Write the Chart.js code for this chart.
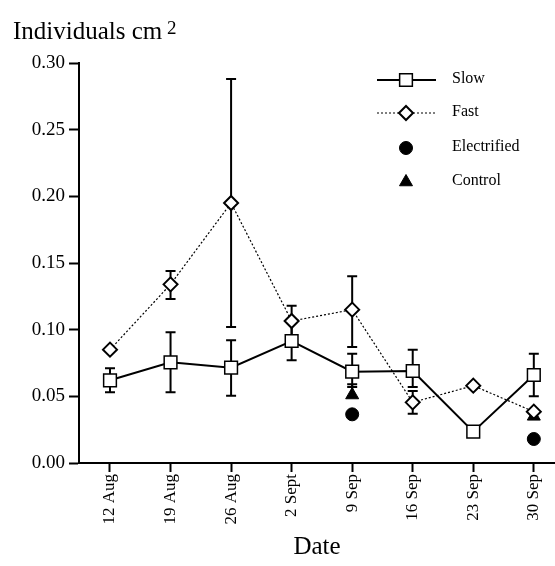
<!DOCTYPE html>
<html>
<head>
<meta charset="utf-8">
<script src="https://cdn.jsdelivr.net/npm/chart.js@4.4.1/dist/chart.umd.min.js"></script>
<style>
  html, body { margin: 0; padding: 0; background: #fff; }
  #wrap { width: 555px; height: 566px; position: relative; }
</style>
</head>
<body>
<div id="wrap"><canvas id="c"></canvas></div>
<script>
// dates on the x axis
const dates = ['12 Aug', '19 Aug', '26 Aug', '2 Sept', '9 Sep', '16 Sep', '23 Sep', '30 Sep'];

// mean values
const slow = [0.062, 0.0755, 0.0715, 0.0915, 0.0685, 0.069, 0.0235, 0.066];
const fast = [0.085, 0.134, 0.195, 0.1065, 0.115, 0.0455, 0.058, 0.0385];
const electrified = [null, null, null, null, 0.0365, null, null, 0.018];
const control = [null, null, null, null, 0.051, null, null, 0.035];

// error bar ends
const slowUp = [0.071, 0.098, 0.092, 0.106, 0.082, 0.085, null, 0.082];
const slowLo = [0.053, 0.053, 0.0505, 0.077, 0.057, 0.057, null, 0.050];
const fastUp = [null, 0.144, 0.288, 0.118, 0.140, 0.054, null, null];
const fastLo = [null, 0.123, 0.102, 0.095, 0.087, 0.037, null, null];
const controlUp = [null, null, null, null, 0.059, null, null, null];
const controlLo = [null, null, null, null, null, null, null, null];

const yTicks = [0, 0.05, 0.10, 0.15, 0.20, 0.25, 0.30];

const serif = '"Liberation Serif", "DejaVu Serif", serif';

function pts(arr) {
  return arr.map((v, i) => ({ x: i, y: v }));
}

const errors = [
  { up: slowUp, lo: slowLo },
  { up: fastUp, lo: fastLo },
  null,
  { up: controlUp, lo: controlLo }
];

const errorBars = {
  id: 'errorBars',
  beforeDatasetsDraw(chart) {
    const ctx = chart.ctx;
    const xs = chart.scales.x, ys = chart.scales.y;
    ctx.save();
    ctx.strokeStyle = '#000';
    ctx.lineWidth = 2;
    errors.forEach((e, di) => {
      if (!e) return;
      const vals = chart.data.datasets[di].data;
      vals.forEach((p, i) => {
        if (p.y == null) return;
        const x = xs.getPixelForValue(i);
        const y = ys.getPixelForValue(p.y);
        [e.up[i], e.lo[i]].forEach(end => {
          if (end == null) return;
          const ye = ys.getPixelForValue(end);
          ctx.beginPath();
          ctx.moveTo(x, y);
          ctx.lineTo(x, ye);
          ctx.moveTo(x - 5, ye);
          ctx.lineTo(x + 5, ye);
          ctx.stroke();
        });
      });
    });
    ctx.restore();
  }
};

const legendBox = {
  id: 'legendBox',
  afterDraw(chart) {
    const ctx = chart.ctx;
    const a = chart.chartArea;
    const x0 = a.left + 298, x1 = a.left + 357, xm = a.left + 327, xt = a.left + 373;
    const rows = [17, 50, 85, 119];
    ctx.save();
    chart.data.datasets.forEach((ds, i) => {
      const y = a.top + rows[i];
      if (ds.showLine !== false) {
        ctx.beginPath();
        ctx.strokeStyle = '#000';
        ctx.lineWidth = ds.borderWidth;
        ctx.setLineDash(ds.borderDash || []);
        ctx.moveTo(x0, y);
        ctx.lineTo(x1, y);
        ctx.stroke();
        ctx.setLineDash([]);
      }
      ctx.fillStyle = ds.pointBackgroundColor;
      ctx.strokeStyle = '#000';
      ctx.lineWidth = ds.pointBorderWidth;
      Chart.helpers.drawPoint(ctx, {
        pointStyle: ds.pointStyle,
        radius: ds.pointRadius,
        borderWidth: ds.pointBorderWidth
      }, xm, y);
      ctx.fillStyle = '#000';
      ctx.font = '16px ' + serif;
      ctx.textBaseline = 'middle';
      ctx.textAlign = 'left';
      ctx.fillText(ds.label, xt, y - 1);
    });
    // y axis unit label
    ctx.font = '25px ' + serif;
    ctx.textBaseline = 'alphabetic';
    ctx.fillText('Individuals cm', 13, 39);
    ctx.font = '19px ' + serif;
    ctx.fillText('2', 167, 34);
    ctx.restore();
  }
};

new Chart(document.getElementById('c'), {
  type: 'line',
  data: {
    datasets: [
      {
        label: 'Slow', data: pts(slow),
        borderColor: '#000', borderWidth: 2,
        pointStyle: 'rect', pointRadius: 9, pointHoverRadius: 9,
        pointBackgroundColor: '#fff', pointBorderColor: '#000', pointBorderWidth: 1.5
      },
      {
        label: 'Fast', data: pts(fast),
        borderColor: '#000', borderWidth: 1.2, borderDash: [2, 2],
        pointStyle: 'rectRot', pointRadius: 7, pointHoverRadius: 7,
        pointBackgroundColor: '#fff', pointBorderColor: '#000', pointBorderWidth: 2
      },
      {
        label: 'Electrified', data: pts(electrified), showLine: false,
        pointStyle: 'circle', pointRadius: 6.5, pointHoverRadius: 6.5,
        pointBackgroundColor: '#000', pointBorderColor: '#000', pointBorderWidth: 1
      },
      {
        label: 'Control', data: pts(control), showLine: false,
        pointStyle: 'triangle', pointRadius: 7.5, pointHoverRadius: 7.5,
        pointBackgroundColor: '#000', pointBorderColor: '#000', pointBorderWidth: 1
      }
    ]
  },
  options: {
    responsive: true,
    maintainAspectRatio: false,
    animation: false,
    spanGaps: false,
    layout: { autoPadding: false, padding: { top: 63, right: 0, left: 0, bottom: 0 } },
    plugins: { legend: { display: false }, tooltip: { enabled: false }, title: { display: false } },
    scales: {
      x: {
        type: 'linear',
        min: -0.512,
        max: 7.35,
        afterBuildTicks(scale) { scale.ticks = dates.map((d, i) => ({ value: i })); },
        afterFit(scale) { scale.height = 103; scale.paddingRight = 0; scale.paddingLeft = 0; },
        grid: { drawOnChartArea: false, tickLength: 9, tickWidth: 2, tickColor: '#000' },
        border: { color: '#000', width: 2 },
        ticks: {
          autoSkip: false, maxRotation: 90, minRotation: 90, padding: 2,
          color: '#000', font: { family: serif, size: 17 },
          callback: v => dates[v]
        },
        title: { display: true, text: 'Date', color: '#000', font: { family: serif, size: 25 }, padding: { top: 6 } }
      },
      y: {
        min: 0,
        max: 0.30,
        afterBuildTicks(scale) { scale.ticks = yTicks.map(v => ({ value: v })); },
        afterFit(scale) { scale.width = 79; scale.paddingTop = 0; scale.paddingBottom = 0; },
        grid: { drawOnChartArea: false, tickLength: 10, tickWidth: 2, tickColor: '#000' },
        border: { color: '#000', width: 2 },
        ticks: {
          padding: 4, color: '#000', font: { family: serif, size: 19 },
          callback: v => v.toFixed(2)
        }
      }
    }
  },
  plugins: [errorBars, legendBox]
});
</script>
</body>
</html>
